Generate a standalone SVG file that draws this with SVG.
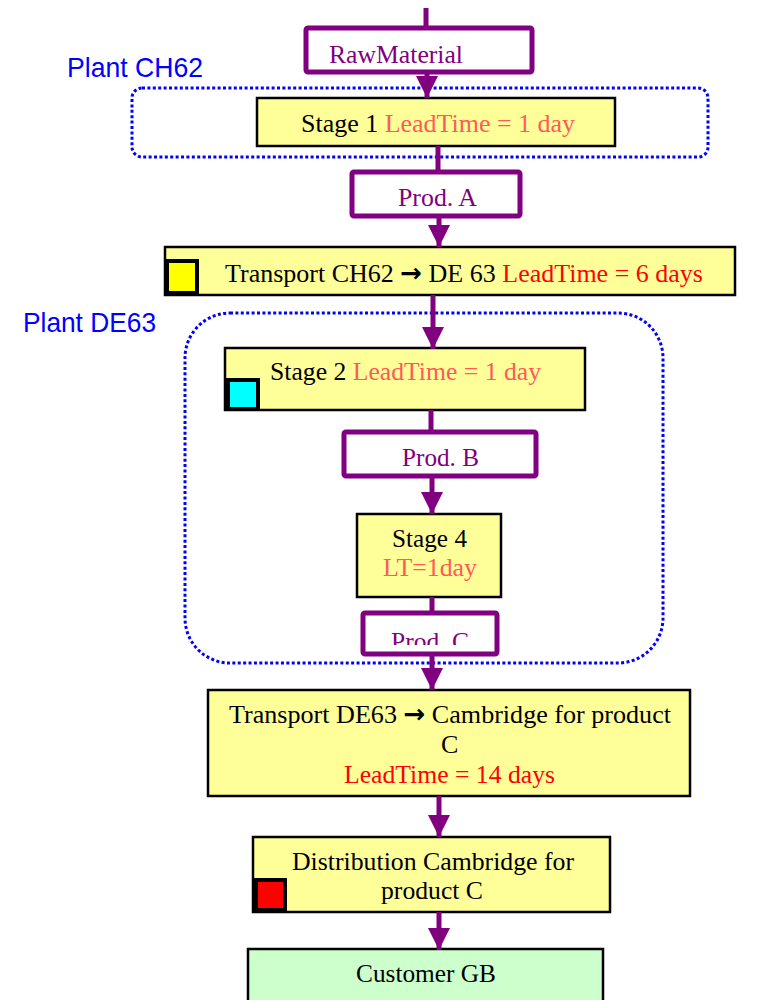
<svg xmlns="http://www.w3.org/2000/svg" width="768" height="1000" viewBox="0 0 768 1000">
<style>
.t{font-family:"Liberation Serif","Times New Roman",serif;font-size:26px;fill:#000}
.p{fill:#800080}
.lt{fill:#ff5a5a}
.rd{fill:#ff0000}
.ar{font-family:"DejaVu Sans",sans-serif;font-weight:bold}
.pl{font-family:"Liberation Sans",Arial,sans-serif;font-size:28px;fill:#0000ff}
.grp{fill:none;stroke:#0000ff;stroke-width:3;stroke-dasharray:3 2.4}
.prod{fill:#fff;stroke:#800080;stroke-width:5}
.stage{fill:#ffff99;stroke:#000;stroke-width:2.5}
.cust{fill:#ccffcc;stroke:#000;stroke-width:2.5}
.sq{stroke:#000;stroke-width:4}
.c{stroke:#800080;stroke-width:5;fill:none}
</style>
<defs>
<marker id="ah" markerUnits="userSpaceOnUse" markerWidth="24" markerHeight="22" refX="22" refY="11" orient="auto">
<path d="M0,0 L22,11 L0,22 Z" fill="#800080"/>
</marker>
<clipPath id="clipC"><rect x="361" y="611" width="138" height="34"/></clipPath>
</defs>
<rect width="768" height="1000" fill="#fff"/>

<g id="plantCH62">
<rect class="grp" x="132" y="88" width="576" height="69" rx="10"/>
<text class="pl" x="67" y="77" textLength="136" lengthAdjust="spacingAndGlyphs">Plant CH62</text>
</g>
<g id="plantDE63">
<rect class="grp" x="185" y="313" width="478" height="350" rx="45"/>
<text class="pl" x="23" y="332" textLength="133" lengthAdjust="spacingAndGlyphs">Plant DE63</text>
</g>

<g id="rawMaterial">
<rect class="prod" x="306" y="28" width="226" height="44" rx="2"/>
<text class="t p" x="329" y="63" textLength="134" lengthAdjust="spacingAndGlyphs">RawMaterial</text>
</g>
<g id="stage1">
<rect class="stage" x="257" y="98" width="358" height="48"/>
<text class="t" x="301" y="132" textLength="274" lengthAdjust="spacingAndGlyphs">Stage 1 <tspan class="lt">LeadTime = 1 day</tspan></text>
</g>
<g id="prodA">
<rect class="prod" x="352" y="172" width="168" height="44" rx="2"/>
<text class="t p" x="398" y="206" textLength="79" lengthAdjust="spacingAndGlyphs">Prod. A</text>
</g>
<g id="transportCH62">
<rect class="stage" x="165" y="247" width="570" height="48"/>
<rect class="sq" x="167" y="261" width="30" height="32" fill="#ffff00"/>
<text class="t" x="225" y="282" textLength="478" lengthAdjust="spacingAndGlyphs">Transport CH62 <tspan class="ar">→</tspan> DE 63 <tspan class="rd">LeadTime = 6 days</tspan></text>
</g>
<g id="stage2">
<rect class="stage" x="225" y="348" width="360" height="62"/>
<rect class="sq" x="228" y="380" width="30" height="29" fill="#00ffff"/>
<text class="t" x="270" y="380" textLength="271" lengthAdjust="spacingAndGlyphs">Stage 2 <tspan class="lt">LeadTime = 1 day</tspan></text>
</g>
<g id="prodB">
<rect class="prod" x="344" y="432" width="192" height="44" rx="2"/>
<text class="t p" x="402" y="466" textLength="77" lengthAdjust="spacingAndGlyphs">Prod. B</text>
</g>
<g id="stage4">
<rect class="stage" x="357" y="514" width="144" height="83"/>
<text class="t" x="392" y="547" textLength="75" lengthAdjust="spacingAndGlyphs">Stage 4</text>
<text class="t lt" x="383" y="576" textLength="94" lengthAdjust="spacingAndGlyphs">LT=1day</text>
</g>
<g id="prodC">
<rect class="prod" x="363" y="613" width="134" height="41" rx="2"/>
<text class="t p" x="391" y="650" textLength="78" lengthAdjust="spacingAndGlyphs" clip-path="url(#clipC)">Prod. C</text>
</g>
<g id="transportDE63">
<rect class="stage" x="208" y="690" width="482" height="106"/>
<text class="t" x="229" y="723" textLength="442" lengthAdjust="spacingAndGlyphs">Transport DE63 <tspan class="ar">→</tspan> Cambridge for product</text>
<text class="t" x="441" y="753">C</text>
<text class="t rd" x="344" y="783" textLength="211" lengthAdjust="spacingAndGlyphs">LeadTime = 14 days</text>
</g>
<g id="distribution">
<rect class="stage" x="253" y="837" width="357" height="75"/>
<rect class="sq" x="256" y="880" width="29" height="30" fill="#ff0000"/>
<text class="t" x="292" y="870" textLength="282" lengthAdjust="spacingAndGlyphs">Distribution Cambridge for</text>
<text class="t" x="381" y="899" textLength="102" lengthAdjust="spacingAndGlyphs">product C</text>
</g>
<g id="customerGB">
<rect class="cust" x="248" y="949" width="355" height="60"/>
<text class="t" x="356" y="982" textLength="140" lengthAdjust="spacingAndGlyphs">Customer GB</text>
</g>

<g id="connectors">
<line class="c" x1="426" y1="8" x2="426" y2="28"/>
<line class="c" x1="427" y1="72" x2="427" y2="98" marker-end="url(#ah)"/>
<line class="c" x1="438" y1="146" x2="438" y2="172"/>
<line class="c" x1="439" y1="216" x2="439" y2="247" marker-end="url(#ah)"/>
<line class="c" x1="433" y1="295" x2="433" y2="349" marker-end="url(#ah)"/>
<line class="c" x1="431" y1="410" x2="431" y2="432"/>
<line class="c" x1="432" y1="476" x2="432" y2="514" marker-end="url(#ah)"/>
<line class="c" x1="432" y1="597" x2="432" y2="613"/>
<line class="c" x1="432" y1="654" x2="432" y2="690" marker-end="url(#ah)"/>
<line class="c" x1="439" y1="796" x2="439" y2="837" marker-end="url(#ah)"/>
<line class="c" x1="439" y1="912" x2="439" y2="950" marker-end="url(#ah)"/>
</g>
</svg>
